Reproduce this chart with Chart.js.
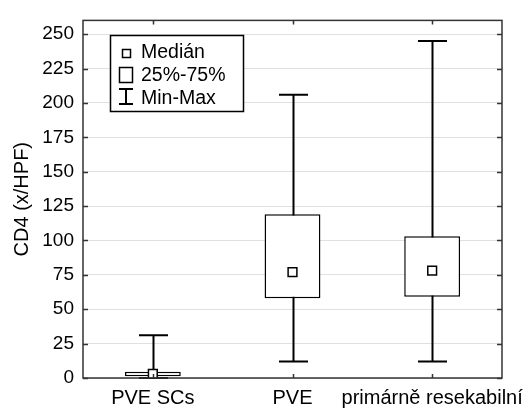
<!DOCTYPE html>
<html>
<head>
<meta charset="utf-8">
<script src="https://cdn.jsdelivr.net/npm/chart.js@4"></script>
<style>
  html, body { margin: 0; padding: 0; background: #fff; }
  #chart { display: block; }
</style>
</head>
<body>
<canvas id="chart" width="524" height="410"></canvas>
<script>
// data
const categories = ['PVE SCs', 'PVE', 'primárně resekabilní'];
const minVals = [0, 12, 12];
const q1Vals = [1.3, 58, 59];
const medianVals = [3, 77, 78];
const q3Vals = [4.5, 119, 103];
const maxVals = [31, 206, 245];
const yTicks = [0, 25, 50, 75, 100, 125, 150, 175, 200, 225, 250];

const FONT = "'Liberation Sans', Arial, sans-serif";

// whiskers under the boxes
const whiskerPlugin = {
    id: 'whiskers',
    beforeDatasetsDraw(chart) {
        const ctx = chart.ctx;
        const x = chart.scales.x, y = chart.scales.y;
        const boxes = chart.getDatasetMeta(0).data;
        ctx.save();
        ctx.strokeStyle = '#000';
        ctx.lineWidth = 2;
        categories.forEach((c, i) => {
            const px = Math.round(x.getPixelForValue(i)) + 0.5;
            const half = boxes[i].width * 0.26;
            const yMin = y.getPixelForValue(minVals[i]);
            const yMax = y.getPixelForValue(maxVals[i]);
            ctx.beginPath();
            ctx.moveTo(px, yMin); ctx.lineTo(px, yMax);
            ctx.moveTo(px - half, yMax); ctx.lineTo(px + half, yMax);
            ctx.moveTo(px - half, yMin); ctx.lineTo(px + half, yMin);
            ctx.stroke();
        });
        ctx.restore();
    }
};

// frame, inner ticks and the legend box
const framePlugin = {
    id: 'frame',
    afterDraw(chart) {
        const ctx = chart.ctx;
        const a = chart.chartArea;
        const x = chart.scales.x, y = chart.scales.y;
        ctx.save();
        ctx.strokeStyle = '#333';
        ctx.lineWidth = 1.5;
        ctx.strokeRect(a.left, a.top, a.right - a.left, a.bottom - a.top);

        ctx.beginPath();
        yTicks.forEach(v => {
            const py = Math.round(y.getPixelForValue(v)) + 0.5;
            ctx.moveTo(a.left, py); ctx.lineTo(a.left + 5, py);
            ctx.moveTo(a.right, py); ctx.lineTo(a.right - 5, py);
        });
        categories.forEach((c, i) => {
            const px = Math.round(x.getPixelForValue(i)) + 0.5;
            ctx.moveTo(px, a.top); ctx.lineTo(px, a.top + 4);
            ctx.moveTo(px, a.bottom); ctx.lineTo(px, a.bottom - 4);
        });
        ctx.stroke();

        // legend
        ctx.fillStyle = '#fff';
        ctx.fillRect(110.5, 35.5, 133, 76);
        ctx.strokeStyle = '#000';
        ctx.lineWidth = 1.5;
        ctx.strokeRect(110.5, 35.5, 133, 76);

        ctx.lineWidth = 1.5;
        ctx.strokeRect(122.5, 49.5, 8, 8);
        ctx.strokeRect(119.5, 67.5, 13, 15);
        ctx.lineWidth = 2;
        ctx.beginPath();
        ctx.moveTo(126, 88); ctx.lineTo(126, 105);
        ctx.moveTo(119, 89); ctx.lineTo(133, 89);
        ctx.moveTo(119, 104); ctx.lineTo(133, 104);
        ctx.stroke();

        ctx.fillStyle = '#000';
        ctx.font = '19.5px ' + FONT;
        ctx.textAlign = 'left';
        ctx.textBaseline = 'alphabetic';
        ctx.fillText('Medián', 141, 58);
        ctx.fillText('25%-75%', 141, 81);
        ctx.fillText('Min-Max', 141, 104);
        ctx.restore();
    }
};

new Chart(document.getElementById('chart'), {
    type: 'bar',
    data: {
        labels: categories,
        datasets: [{
            label: '25%-75%',
            data: q1Vals.map((v, i) => [v, q3Vals[i]]),
            backgroundColor: '#fff',
            borderColor: '#000',
            borderWidth: 1.5,
            borderSkipped: false,
            categoryPercentage: 1,
            barPercentage: 0.4,
            order: 1
        }, {
            type: 'line',
            label: 'Medián',
            data: medianVals,
            showLine: false,
            pointStyle: 'rect',
            pointRadius: 6.2,
            pointBackgroundColor: '#fff',
            pointBorderColor: '#000',
            pointBorderWidth: 1.5,
            order: 0
        }]
    },
    options: {
        responsive: false,
        animation: false,
        layout: { padding: { top: 12, right: 22, bottom: 0, left: 0 } },
        plugins: { legend: { display: false }, tooltip: { enabled: false } },
        scales: {
            x: {
                grid: { display: false },
                border: { display: false },
                ticks: { color: '#000', font: { family: FONT, size: 20 }, padding: 0, maxRotation: 0, autoSkip: false },
                afterFit: s => { s.height = 32; s.paddingLeft = 0; s.paddingRight = 0; }
            },
            y: {
                min: 0,
                max: 260,
                grid: { color: '#e0e0e0', lineWidth: 1, drawTicks: false },
                border: { display: false },
                ticks: { stepSize: 25, color: '#000', font: { family: FONT, size: 19 }, padding: 9 },
                afterBuildTicks: s => { s.ticks = yTicks.map(v => ({ value: v })); },
                title: { display: true, text: 'CD4 (x/HPF)', color: '#000', font: { family: FONT, size: 20 }, padding: { top: 10, bottom: 0 } },
                afterFit: s => { s.width = 83; }
            }
        }
    },
    plugins: [whiskerPlugin, framePlugin]
});
</script>
</body>
</html>
